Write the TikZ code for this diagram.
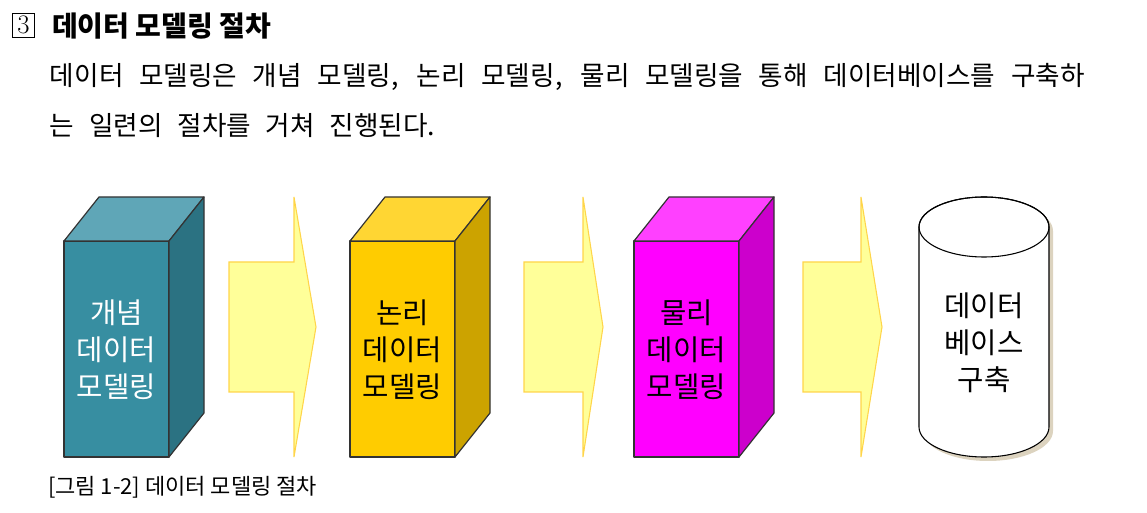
\documentclass[tikz,border=0pt]{standalone}
\usepackage{fontspec}
\newfontfamily\kr{Noto Sans CJK KR}
\definecolor{tealfront}{HTML}{378EA1}
\definecolor{tealtop}{HTML}{5FA6B7}
\definecolor{tealside}{HTML}{2B7282}
\definecolor{yelfront}{HTML}{FFCC00}
\definecolor{yeltop}{HTML}{FFD633}
\definecolor{yelside}{HTML}{CCA300}
\definecolor{magfront}{HTML}{FF00FF}
\definecolor{magtop}{HTML}{FF40FF}
\definecolor{magside}{HTML}{CC00CC}
\definecolor{arrowfill}{HTML}{FFFF99}
\definecolor{arrowline}{HTML}{FFD54A}
\definecolor{shadowc}{HTML}{DCD3BF}
\newcommand\cuboid[4]{%
  \draw[face,fill=#2] (#1,241) rectangle ++(105,216);
  \draw[face,fill=#3] (#1,241) -- ++(35,-44) -- ++(105,0) -- ++(-35,44) -- cycle;
  \draw[face,fill=#4] (#1+105,241) -- ++(35,-44) -- ++(0,216) -- ++(-35,44) -- cycle;
}
\newcommand\bigarrow[3]{%
  \draw[arrowshape] (#1,262) -- (#2,262) -- (#2,197) -- (#3,327) -- (#2,457) -- (#2,392) -- (#1,392) -- cycle;
}
\begin{document}
\begin{tikzpicture}[x=0.75pt,y=-0.75pt,
  every node/.style={inner sep=0pt, outer sep=0pt},
  face/.style={draw=black!80, line width=0.9pt, line join=round},
  arrowshape/.style={fill=arrowfill, draw=arrowline, line width=0.8pt, line join=miter},
  boxtext/.style={font=\kr\fontsize{21.5}{27.75}\selectfont, align=center},
  bodytext/.style={font=\kr\fontsize{20}{22}\selectfont, anchor=west},
]
\useasboundingbox (0,0) rectangle (1147,513);

% heading
\node[draw, line width=0.6pt, minimum width=17pt, minimum height=18pt, font=\fontsize{20}{22}\selectfont] (num) at (23.5,25) {3};
\node[font=\kr\bfseries\fontsize{21}{22}\selectfont, anchor=west] (title) at (52,26) {데이터 모델링 절차};

% paragraph
\node[bodytext] (line1) at (50,77) {\makebox[776pt][s]{데이터 모델링은 개념 모델링, 논리 모델링, 물리 모델링을 통해 데이터베이스를 구축하}};
\node[bodytext] (line2) at (50,126) {\makebox[289pt][s]{는 일련의 절차를 거쳐 진행된다.}};

% boxes
\cuboid{64}{tealfront}{tealtop}{tealside}
\node[boxtext, text=white] (concept) at (116.5,350) {개념\\데이터\\모델링};
\bigarrow{229}{294}{316}
\cuboid{350}{yelfront}{yeltop}{yelside}
\node[boxtext] (logical) at (402.5,350) {논리\\데이터\\모델링};
\bigarrow{524}{583}{603}
\cuboid{634}{magfront}{magtop}{magside}
\node[boxtext] (physical) at (686.5,350) {물리\\데이터\\모델링};
\bigarrow{803}{861}{882}

% cylinder
\fill[shadowc] (923,231) -- (923,431) arc[start angle=180, end angle=0, x radius=65, y radius=30] -- (1053,231) arc[start angle=0, end angle=-180, x radius=65, y radius=30] -- cycle;
\draw[fill=white, line width=0.8pt] (919,227) -- (919,427) arc[start angle=180, end angle=0, x radius=65, y radius=30] -- (1049,227) arc[start angle=0, end angle=-180, x radius=65, y radius=30] -- cycle;
\draw[line width=0.8pt] (984,227) ellipse[x radius=65, y radius=30];
\node[boxtext] (db) at (984,343) {데이터\\베이스\\구축};

% caption
\node[font=\kr\fontsize{16.5}{18}\selectfont, anchor=west] (caption) at (48,487) {[그림 1-2] 데이터 모델링 절차};
\end{tikzpicture}
\end{document}
